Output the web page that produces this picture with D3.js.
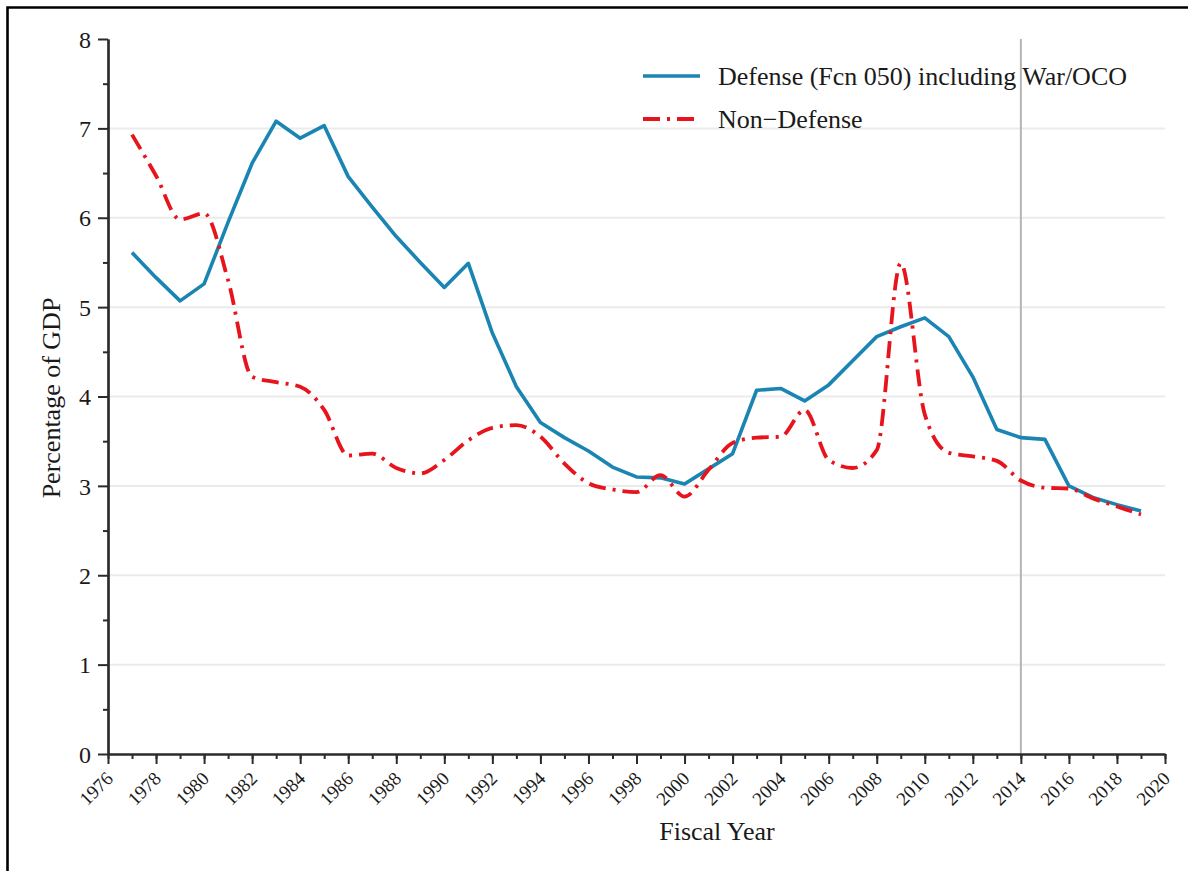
<!DOCTYPE html>
<html><head><meta charset="utf-8">
<script src="https://cdn.jsdelivr.net/npm/d3@7"></script>
<style>
html,body{margin:0;padding:0;background:#fff;}
svg{display:block;}
text{font-family:"Liberation Serif","Times New Roman",serif;fill:#1a1a1a;}
</style></head><body>
<script>
// ---- data ----
const years = [1977,1978,1979,1980,1981,1982,1983,1984,1985,1986,1987,1988,1989,1990,1991,1992,1993,1994,1995,1996,1997,1998,1999,2000,2001,2002,2003,2004,2005,2006,2007,2008,2009,2010,2011,2012,2013,2014,2015,2016,2017,2018,2019];
const defense = [5.61,5.33,5.07,5.26,5.95,6.61,7.08,6.89,7.03,6.46,6.12,5.79,5.50,5.22,5.49,4.71,4.11,3.71,3.54,3.39,3.21,3.10,3.09,3.02,3.19,3.36,4.07,4.09,3.95,4.13,4.40,4.67,4.78,4.88,4.67,4.22,3.63,3.54,3.52,3.00,2.87,2.79,2.72];
const nonDefense = [6.93,6.47,5.98,6.05,5.30,4.22,4.16,4.11,3.85,3.34,3.36,3.20,3.14,3.29,3.51,3.65,3.68,3.55,3.25,3.03,2.96,2.93,3.12,2.88,3.18,3.48,3.54,3.55,3.85,3.29,3.20,3.40,5.49,3.80,3.37,3.33,3.28,3.06,2.98,2.97,2.86,2.77,2.68];
const yTicks = [0,1,2,3,4,5,6,7,8];
const xTickLabels = [1976,1978,1980,1982,1984,1986,1988,1990,1992,1994,1996,1998,2000,2002,2004,2006,2008,2010,2012,2014,2016,2018,2020];
const seriesNames = ["Defense (Fcn 050) including War/OCO", "Non\u2212Defense"];
const markerYear = 2014;
const xTitle = "Fiscal Year";
const yTitle = "Percentage of GDP";

// ---- chart ----
const W = 1188, H = 871;
const blue = "#1a85b2", red = "#e8141c", axisCol = "#2b2b2b";
const svg = d3.select("body").append("svg").attr("width", W).attr("height", H);
svg.append("rect").attr("width", W).attr("height", H).attr("fill", "#fff");
svg.append("path").attr("d", `M7.5,${H}V7.5H${W}`).attr("fill", "none").attr("stroke", "#000").attr("stroke-width", 2.6);

const x = d3.scaleLinear().domain([1976, 2020]).range([108, 1165]);
const y = d3.scaleLinear().domain([0, 8]).range([754, 39]);

// grid
svg.append("g").selectAll("line").data(yTicks.filter(d => d > 0 && d < 8)).join("line")
  .attr("x1", x(1976)).attr("x2", x(2020)).attr("y1", d => y(d)).attr("y2", d => y(d))
  .attr("stroke", "#ebebeb").attr("stroke-width", 2);
// marker line
svg.append("line").attr("x1", x(markerYear)).attr("x2", x(markerYear)).attr("y1", y(8)).attr("y2", y(0))
  .attr("stroke", "#b5b5b5").attr("stroke-width", 2);

function styleAxis(g) {
  g.attr("font-family", null).attr("font-size", null);
  g.select(".domain").attr("stroke", axisCol).attr("stroke-width", 2.2);
  g.selectAll(".tick line").attr("stroke", axisCol).attr("stroke-width", 2);
  g.selectAll(".tick text").attr("fill", "#1a1a1a");
}

// x axis minor
const xMinor = d3.range(1976, 2021);
svg.append("g").attr("transform", `translate(0,${y(0)})`)
  .call(d3.axisBottom(x).tickValues(xMinor).tickSize(5).tickSizeOuter(0).tickFormat(""))
  .call(styleAxis);
// x axis major
const gx = svg.append("g").attr("transform", `translate(0,${y(0)})`)
  .call(d3.axisBottom(x).tickValues(xTickLabels).tickSize(10).tickSizeOuter(0).tickFormat(d3.format("d")))
  .call(styleAxis);
gx.selectAll(".tick text").attr("x", 0).attr("y", 0).attr("dy", "0.35em")
  .attr("text-anchor", "end").attr("font-size", 19)
  .attr("transform", "translate(1,21) rotate(-45)");

// y axis minor
svg.append("g").attr("transform", `translate(${x(1976)},0)`)
  .call(d3.axisLeft(y).tickValues(d3.range(0.5, 8, 1)).tickSize(5).tickSizeOuter(0).tickFormat(""))
  .call(styleAxis);
const gy = svg.append("g").attr("transform", `translate(${x(1976)},0)`)
  .call(d3.axisLeft(y).tickValues(yTicks).tickSize(10).tickPadding(7).tickSizeOuter(0).tickFormat(d3.format("d")))
  .call(styleAxis);
gy.selectAll(".tick text").attr("font-size", 24).attr("dy", "0.34em");

// lines
const lineLin = d3.line().x((d, i) => x(years[i])).y(d => y(d));
const lineSmooth = d3.line().x((d, i) => x(years[i])).y(d => y(d)).curve(d3.curveMonotoneX);
svg.append("path").datum(defense).attr("d", lineLin).attr("fill", "none")
  .attr("stroke", blue).attr("stroke-width", 3.6).attr("stroke-linejoin", "round");
svg.append("path").datum(nonDefense).attr("d", lineSmooth).attr("fill", "none")
  .attr("stroke", red).attr("stroke-width", 3.8).attr("stroke-dasharray", "17,7,3,7");

// legend
const leg = svg.append("g");
const legItems = [{name: seriesNames[0], col: blue, dash: null, yy: 76},
                  {name: seriesNames[1], col: red, dash: "17,7,3,7", yy: 119}];
legItems.forEach(it => {
  leg.append("line").attr("x1", 643).attr("x2", 700).attr("y1", it.yy).attr("y2", it.yy)
    .attr("stroke", it.col).attr("stroke-width", it.dash ? 3.8 : 3.6).attr("stroke-dasharray", it.dash);
  leg.append("text").attr("x", 718).attr("y", it.yy).attr("dy", "0.33em").attr("font-size", 26).text(it.name);
});

// titles
svg.append("text").attr("x", 717).attr("y", 840).attr("text-anchor", "middle").attr("font-size", 26).text(xTitle);
svg.append("text").attr("transform", "translate(60,398) rotate(-90)").attr("text-anchor", "middle").attr("font-size", 26).text(yTitle);
</script>
</body></html>
